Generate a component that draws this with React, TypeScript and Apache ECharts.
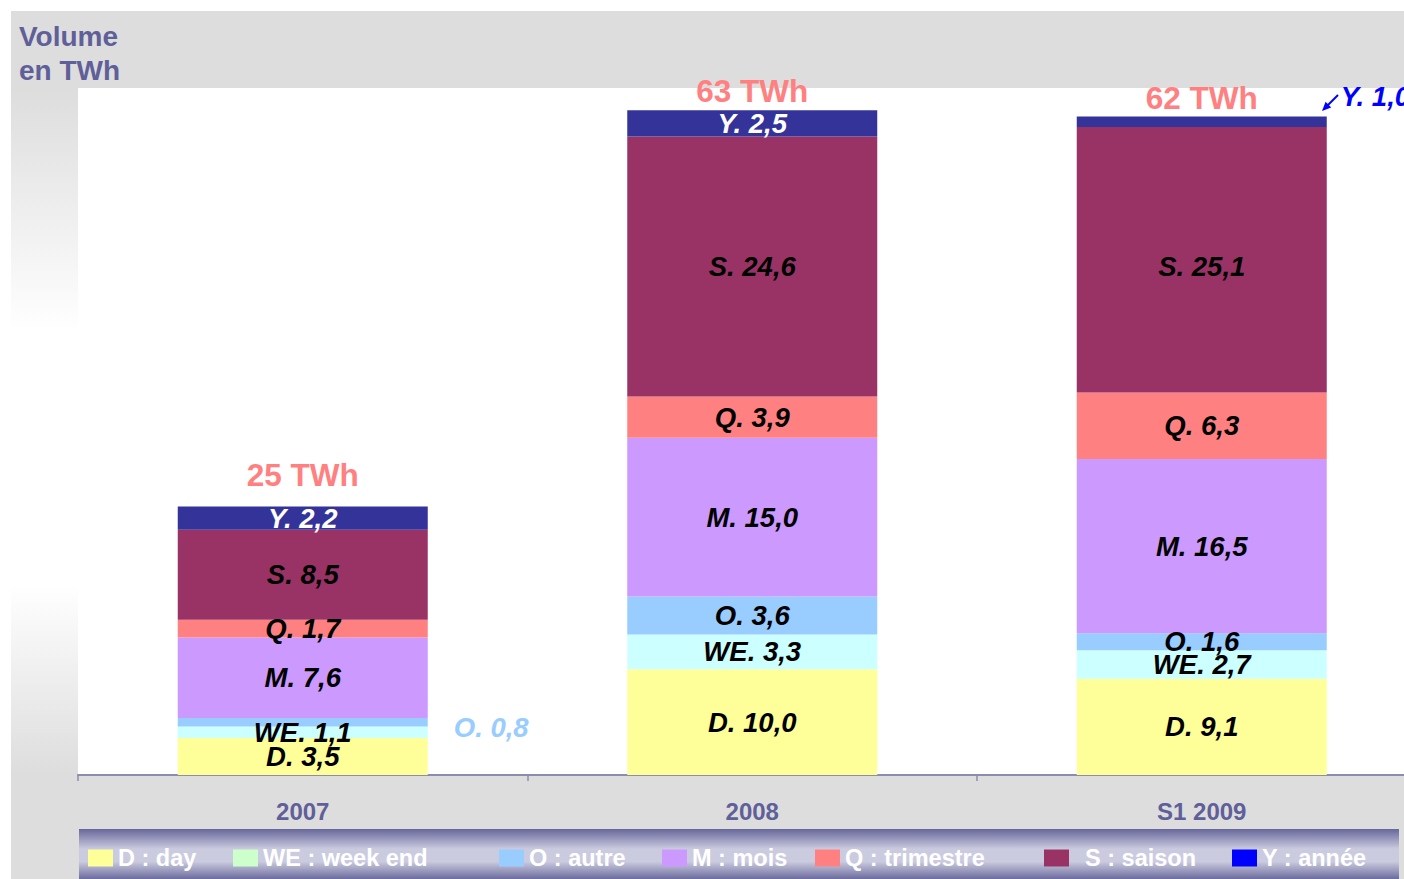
import React, { useEffect, useRef } from "react";
import * as echarts from "echarts";

const categories = ["2007", "2008", "S1 2009"];
const dayVals = [3.5, 10.0, 9.1];
const weekendVals = [1.1, 3.3, 2.7];
const otherVals = [0.8, 3.6, 1.6];
const monthVals = [7.6, 15.0, 16.5];
const quarterVals = [1.7, 3.9, 6.3];
const seasonVals = [8.5, 24.6, 25.1];
const yearVals = [2.2, 2.5, 1.0];
const totalLabels = ["25 TWh", "63 TWh", "62 TWh"];

const seriesNames = ["D : day", "WE : week end", "O : autre", "M : mois", "Q : trimestre", "S : saison", "Y : année"];
const prefixes = ["D.", "WE.", "O.", "M.", "Q.", "S.", "Y."];
const barColors = ["#ffff99", "#ccffff", "#99ccff", "#cc99ff", "#ff8080", "#993366", "#333399"];
const legendColors = ["#ffff99", "#ccffcc", "#99ccff", "#cc99ff", "#ff8080", "#993366", "#0000ff"];
const legendLefts = [88, 233, 499, 662, 815, 1044, 1232];

const FONT = "'Liberation Sans', Arial, sans-serif";

export default function App() {
  const ref = useRef<HTMLDivElement>(null);
  useEffect(() => {
    const chart = echarts.init(ref.current!, null, { renderer: "svg" });
    const allVals = [dayVals, weekendVals, otherVals, monthVals, quarterVals, seasonVals, yearVals];
    const fmt = (p: string) => (params: any) => `${p} ${Number(params.value).toFixed(1).replace(".", ",")}`;
    const baseLabel = {
      show: true,
      position: "inside",
      fontFamily: FONT,
      fontSize: 27.5,
      fontWeight: "bold",
      fontStyle: "italic",
      color: "#000",
    };
    const series: any[] = allVals.map((vals, i) => ({
      name: seriesNames[i],
      type: "bar",
      stack: "total",
      barWidth: 250,
      itemStyle: { color: barColors[i] },
      label: { ...baseLabel, color: i === 6 ? "#ffffff" : "#000", formatter: fmt(prefixes[i]) },
      data: vals.map((v, j) => {
        if (i === 2 && j === 0) {
          return { value: v, label: { position: "right", distance: 26, offset: [0, 5], color: "#99ccff" } };
        }
        if (i === 6 && j === 2) {
          return { value: v, label: { position: "right", distance: 14, offset: [0, -25], color: "#0000ff" } };
        }
        if (i === 5 && j === 2) {
          return { value: v, label: { offset: [0, 7] } };
        }
        return v;
      }),
    }));
    series.push({
      name: "total",
      type: "bar",
      stack: "total",
      barWidth: 250,
      itemStyle: { color: "transparent" },
      label: {
        show: true,
        position: "top",
        fontFamily: FONT,
        fontSize: 31.5,
        fontWeight: "bold",
        color: "#ff8080",
        formatter: (p: any) => totalLabels[p.dataIndex],
      },
      data: totalLabels.map((_, j) => ({ value: 0, label: { distance: j === 0 ? 16 : 3 } })),
    });

    const legends = seriesNames.map((n, i) => ({
      data: [{ name: n, itemStyle: { color: legendColors[i] } }],
      left: legendLefts[i],
      top: 846,
      padding: 0,
      itemWidth: 25,
      itemHeight: 17,
      icon: "rect",
      selectedMode: false,
      textStyle: {
        color: "#ffffff",
        fontFamily: FONT,
        fontSize: 23.5,
        fontWeight: "bold",
        padding: i === 5 ? [0, 0, 0, 11] : 0,
      },
    }));

    chart.setOption({
      animation: false,
      backgroundColor: "#ffffff",
      title: {
        text: "Volume\nen TWh",
        left: 19,
        top: 19,
        padding: 0,
        textStyle: { color: "#5f5f99", fontFamily: FONT, fontSize: 28, fontWeight: "bold", lineHeight: 34 },
      },
      legend: legends,
      grid: {
        left: 78,
        top: 88,
        width: 1348.5,
        height: 687,
        show: true,
        backgroundColor: "#ffffff",
        borderWidth: 0,
        containLabel: false,
        outerBoundsMode: "none",
      },
      xAxis: {
        type: "category",
        data: categories,
        axisLine: { lineStyle: { color: "#8c8cac", width: 2 } },
        axisTick: { show: true, length: 6, lineStyle: { color: "#8c8cac", width: 1.5 } },
        axisLabel: { color: "#5f5f99", fontFamily: FONT, fontSize: 24, fontWeight: "bold", margin: 24 },
      },
      yAxis: {
        type: "value",
        min: 0,
        max: 65,
        show: false,
        splitLine: { show: false },
      },
      graphic: [
        {
          type: "rect",
          z: -100,
          shape: { x: 11, y: 11, width: 1393, height: 868 },
          style: {
            fill: new echarts.graphic.LinearGradient(0, 0, 0, 1, [
              { offset: 0, color: "#dddddd" },
              { offset: 0.09, color: "#dddddd" },
              { offset: 0.37, color: "#ffffff" },
              { offset: 0.66, color: "#ffffff" },
              { offset: 0.88, color: "#dddddd" },
              { offset: 1, color: "#dddddd" },
            ]),
          },
          silent: true,
        },
        {
          type: "rect",
          z: -50,
          shape: { x: 79, y: 829, width: 1320, height: 50 },
          style: {
            fill: new echarts.graphic.LinearGradient(0, 0, 0, 1, [
              { offset: 0, color: "#67679b" },
              { offset: 0.4, color: "#cbcbdf" },
              { offset: 0.65, color: "#cbcbdf" },
              { offset: 1, color: "#6c6c9e" },
            ]),
          },
          silent: true,
        },
        {
          type: "line",
          z: 10,
          shape: { x1: 1338, y1: 95, x2: 1327, y2: 106 },
          style: { stroke: "#0000ff", lineWidth: 2 },
          silent: true,
        },
        {
          type: "polygon",
          z: 10,
          shape: { points: [[1322, 111], [1331.2, 107.4], [1325.6, 101.8]] },
          style: { fill: "#0000ff" },
          silent: true,
        },
      ],
      series,
    });
    return () => chart.dispose();
  }, []);
  return (
    <div style={{ position: "absolute", left: 0, top: 0, width: 1404, height: 879, overflow: "hidden" }}>
      <div ref={ref} style={{ width: 1430, height: 879 }} />
    </div>
  );
}
